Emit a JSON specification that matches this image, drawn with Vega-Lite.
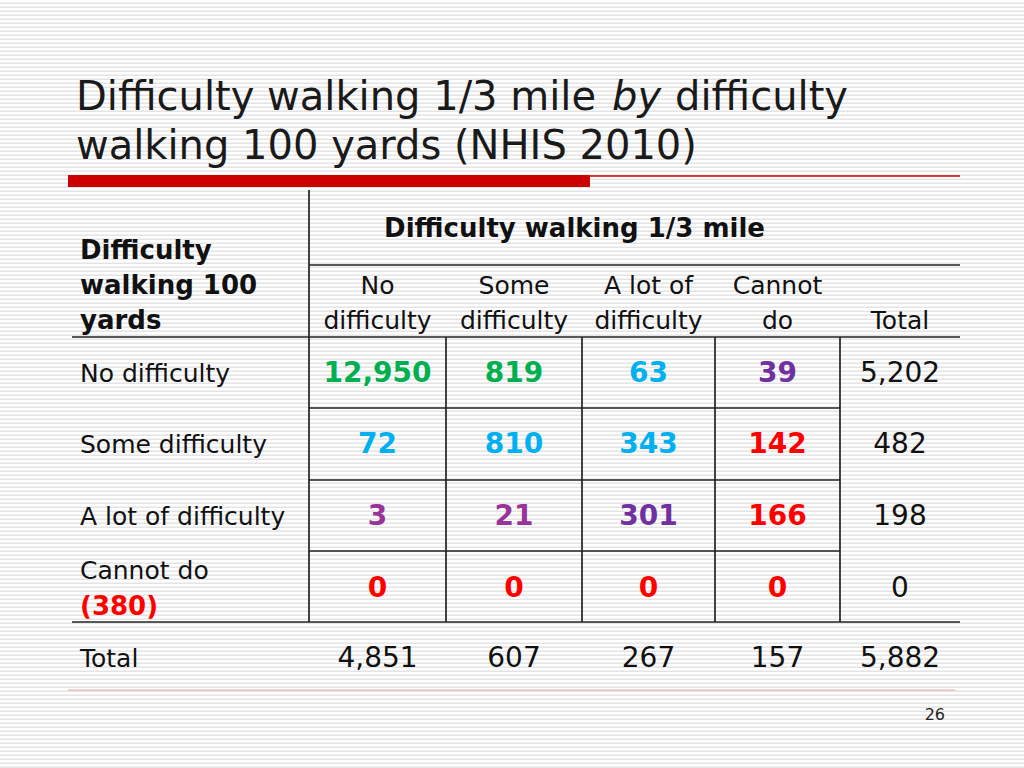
{
  "$schema": "https://vega.github.io/schema/vega-lite/v6.json",
  "width": 1024,
  "height": 768,
  "autosize": {"type": "none"},
  "padding": 0,
  "background": "#ffffff",
  "config": {"view": {"stroke": null}, "text": {"font": "DejaVu Sans"}},
  "datasets": {
    "lines": [
      {"c1": 0, "c2": 0, "r1": 0, "r2": 6},
      {"c1": 1, "c2": 1, "r1": 2, "r2": 6},
      {"c1": 2, "c2": 2, "r1": 2, "r2": 6},
      {"c1": 3, "c2": 3, "r1": 2, "r2": 6},
      {"c1": 4, "c2": 4, "r1": 2, "r2": 6},
      {"c1": 0, "c2": 5, "r1": 1, "r2": 1},
      {"c1": -1, "c2": 5, "r1": 2, "r2": 2},
      {"c1": 0, "c2": 4, "r1": 3, "r2": 3},
      {"c1": 0, "c2": 4, "r1": 4, "r2": 4},
      {"c1": 0, "c2": 4, "r1": 5, "r2": 5},
      {"c1": -1, "c2": 5, "r1": 6, "r2": 6}
    ],
    "rowhead": [
      {"line": 0, "t": "Difficulty"},
      {"line": 1, "t": "walking 100"},
      {"line": 2, "t": "yards"}
    ],
    "colhead": [
      {"col": 0, "line": 0, "t": "No"},
      {"col": 0, "line": 1, "t": "difficulty"},
      {"col": 1, "line": 0, "t": "Some"},
      {"col": 1, "line": 1, "t": "difficulty"},
      {"col": 2, "line": 0, "t": "A lot of"},
      {"col": 2, "line": 1, "t": "difficulty"},
      {"col": 3, "line": 0, "t": "Cannot"},
      {"col": 3, "line": 1, "t": "do"},
      {"col": 4, "line": 1, "t": "Total"}
    ],
    "rowlabels": [
      {"row": 0, "t": "No difficulty"},
      {"row": 1, "t": "Some difficulty"},
      {"row": 2, "t": "A lot of difficulty"},
      {"row": 3, "t": "Cannot do"},
      {"row": 4, "t": "Total"}
    ],
    "counts": [
      {"row": 0, "col": 0, "n": 12950, "grp": "A"},
      {"row": 0, "col": 1, "n": 819, "grp": "A"},
      {"row": 0, "col": 2, "n": 63, "grp": "B"},
      {"row": 0, "col": 3, "n": 39, "grp": "C"},
      {"row": 1, "col": 0, "n": 72, "grp": "B"},
      {"row": 1, "col": 1, "n": 810, "grp": "B"},
      {"row": 1, "col": 2, "n": 343, "grp": "B"},
      {"row": 1, "col": 3, "n": 142, "grp": "E"},
      {"row": 2, "col": 0, "n": 3, "grp": "D"},
      {"row": 2, "col": 1, "n": 21, "grp": "D"},
      {"row": 2, "col": 2, "n": 301, "grp": "C"},
      {"row": 2, "col": 3, "n": 166, "grp": "E"},
      {"row": 3, "col": 0, "n": 0, "grp": "E"},
      {"row": 3, "col": 1, "n": 0, "grp": "E"},
      {"row": 3, "col": 2, "n": 0, "grp": "E"},
      {"row": 3, "col": 3, "n": 0, "grp": "E"}
    ],
    "totals": [
      {"row": 0, "col": 4, "n": 5202},
      {"row": 1, "col": 4, "n": 482},
      {"row": 2, "col": 4, "n": 198},
      {"row": 3, "col": 4, "n": 0},
      {"row": 4, "col": 0, "n": 4851},
      {"row": 4, "col": 1, "n": 607},
      {"row": 4, "col": 2, "n": 267},
      {"row": 4, "col": 3, "n": 157},
      {"row": 4, "col": 4, "n": 5882}
    ]
  },
  "resolve": {"scale": {"x": "independent", "y": "independent", "color": "independent"}},
  "layer": [
    {
      "data": {"values": [{}]},
      "mark": {"type": "rule", "stroke": "#e4e4e4", "strokeWidth": 1024, "strokeDash": [1.5, 2.5]},
      "encoding": {
        "x": {"datum": 0.5, "type": "quantitative", "scale": {"domain": [0, 1], "nice": false, "zero": false}, "axis": null},
        "y": {"datum": 0, "type": "quantitative", "scale": {"domain": [0, 1], "nice": false, "zero": false}, "axis": null},
        "y2": {"datum": 1}
      }
    },
    {
      "data": {"values": [{}]},
      "mark": {"type": "rect", "color": "#cc0000"},
      "encoding": {
        "x": {"datum": -1.017, "type": "quantitative", "scale": {"domain": [-1, 0, 1, 2, 3, 4, 5], "range": [72, 309, 446, 582, 715, 840, 960], "nice": false, "zero": false}, "axis": null},
        "x2": {"datum": 2.06},
        "y": {"datum": -1, "type": "quantitative", "scale": {"domain": [-4, -3, -2, -1, 0, 1, 2, 3, 4, 5, 6, 7, 8], "range": [0, 110, 159, 175, 190, 265, 337, 408, 480, 551, 622, 690, 768], "nice": false, "zero": false}, "axis": null},
        "y2": {"datum": -0.2}
      }
    },
    {
      "data": {"values": [{}]},
      "mark": {"type": "rule", "color": "#cc0000", "strokeWidth": 1.5},
      "encoding": {
        "x": {"datum": 2.06, "type": "quantitative", "scale": {"domain": [-1, 0, 1, 2, 3, 4, 5], "range": [72, 309, 446, 582, 715, 840, 960], "nice": false, "zero": false}, "axis": null},
        "x2": {"datum": 5},
        "y": {"datum": -0.93, "type": "quantitative", "scale": {"domain": [-4, -3, -2, -1, 0, 1, 2, 3, 4, 5, 6, 7, 8], "range": [0, 110, 159, 175, 190, 265, 337, 408, 480, 551, 622, 690, 768], "nice": false, "zero": false}, "axis": null}
      }
    },
    {
      "data": {"values": [{}]},
      "mark": {"type": "rule", "color": "#e3a3a3", "strokeWidth": 1.2},
      "encoding": {
        "x": {"datum": -1.017, "type": "quantitative", "scale": {"domain": [-1, 0, 1, 2, 3, 4, 5], "range": [72, 309, 446, 582, 715, 840, 960], "nice": false, "zero": false}, "axis": null},
        "x2": {"datum": 4.96},
        "y": {"datum": 7, "type": "quantitative", "scale": {"domain": [-4, -3, -2, -1, 0, 1, 2, 3, 4, 5, 6, 7, 8], "range": [0, 110, 159, 175, 190, 265, 337, 408, 480, 551, 622, 690, 768], "nice": false, "zero": false}, "axis": null}
      }
    },
    {
      "data": {"name": "lines"},
      "mark": {"type": "rule", "color": "#222222", "strokeWidth": 1.7},
      "encoding": {
        "x": {"field": "c1", "type": "quantitative", "scale": {"domain": [-1, 0, 1, 2, 3, 4, 5], "range": [72, 309, 446, 582, 715, 840, 960], "nice": false, "zero": false}, "axis": null},
        "x2": {"field": "c2"},
        "y": {"field": "r1", "type": "quantitative", "scale": {"domain": [-4, -3, -2, -1, 0, 1, 2, 3, 4, 5, 6, 7, 8], "range": [0, 110, 159, 175, 190, 265, 337, 408, 480, 551, 622, 690, 768], "nice": false, "zero": false}, "axis": null},
        "y2": {"field": "r2"}
      }
    },
    {
      "data": {"values": [{}]},
      "mark": {"type": "text", "align": "left", "baseline": "alphabetic", "fontSize": 40, "color": "#1a1a1a", "dx": 4},
      "encoding": {
        "x": {"datum": -1, "type": "quantitative", "scale": {"domain": [-1, 0, 1, 2, 3, 4, 5], "range": [72, 309, 446, 582, 715, 840, 960], "nice": false, "zero": false}, "axis": null},
        "y": {"datum": -3, "type": "quantitative", "scale": {"domain": [-4, -3, -2, -1, 0, 1, 2, 3, 4, 5, 6, 7, 8], "range": [0, 110, 159, 175, 190, 265, 337, 408, 480, 551, 622, 690, 768], "nice": false, "zero": false}, "axis": null},
        "text": {"value": "Difficulty walking 1/3 mile"}
      }
    },
    {
      "data": {"values": [{}]},
      "mark": {"type": "text", "align": "left", "baseline": "alphabetic", "fontSize": 40, "fontStyle": "italic", "color": "#1a1a1a", "dx": 30},
      "encoding": {
        "x": {"datum": 2, "type": "quantitative", "scale": {"domain": [-1, 0, 1, 2, 3, 4, 5], "range": [72, 309, 446, 582, 715, 840, 960], "nice": false, "zero": false}, "axis": null},
        "y": {"datum": -3, "type": "quantitative", "scale": {"domain": [-4, -3, -2, -1, 0, 1, 2, 3, 4, 5, 6, 7, 8], "range": [0, 110, 159, 175, 190, 265, 337, 408, 480, 551, 622, 690, 768], "nice": false, "zero": false}, "axis": null},
        "text": {"value": "by"}
      }
    },
    {
      "data": {"values": [{}]},
      "mark": {"type": "text", "align": "left", "baseline": "alphabetic", "fontSize": 40, "color": "#1a1a1a", "dx": 93},
      "encoding": {
        "x": {"datum": 2, "type": "quantitative", "scale": {"domain": [-1, 0, 1, 2, 3, 4, 5], "range": [72, 309, 446, 582, 715, 840, 960], "nice": false, "zero": false}, "axis": null},
        "y": {"datum": -3, "type": "quantitative", "scale": {"domain": [-4, -3, -2, -1, 0, 1, 2, 3, 4, 5, 6, 7, 8], "range": [0, 110, 159, 175, 190, 265, 337, 408, 480, 551, 622, 690, 768], "nice": false, "zero": false}, "axis": null},
        "text": {"value": "difficulty"}
      }
    },
    {
      "data": {"values": [{}]},
      "mark": {"type": "text", "align": "left", "baseline": "alphabetic", "fontSize": 40, "color": "#1a1a1a", "dx": 4},
      "encoding": {
        "x": {"datum": -1, "type": "quantitative", "scale": {"domain": [-1, 0, 1, 2, 3, 4, 5], "range": [72, 309, 446, 582, 715, 840, 960], "nice": false, "zero": false}, "axis": null},
        "y": {"datum": -2, "type": "quantitative", "scale": {"domain": [-4, -3, -2, -1, 0, 1, 2, 3, 4, 5, 6, 7, 8], "range": [0, 110, 159, 175, 190, 265, 337, 408, 480, 551, 622, 690, 768], "nice": false, "zero": false}, "axis": null},
        "text": {"value": "walking 100 yards (NHIS 2010)"}
      }
    },
    {
      "data": {"values": [{}]},
      "mark": {"type": "text", "align": "center", "baseline": "middle", "fontSize": 26, "fontWeight": "bold", "color": "#111111"},
      "encoding": {
        "x": {"datum": 1.945, "type": "quantitative", "scale": {"domain": [-1, 0, 1, 2, 3, 4, 5], "range": [72, 309, 446, 582, 715, 840, 960], "nice": false, "zero": false}, "axis": null},
        "y": {"datum": 0.52, "type": "quantitative", "scale": {"domain": [-4, -3, -2, -1, 0, 1, 2, 3, 4, 5, 6, 7, 8], "range": [0, 110, 159, 175, 190, 265, 337, 408, 480, 551, 622, 690, 768], "nice": false, "zero": false}, "axis": null},
        "text": {"value": "Difficulty walking 1/3 mile"}
      }
    },
    {
      "data": {"name": "rowhead"},
      "mark": {"type": "text", "align": "left", "baseline": "middle", "fontSize": 26, "fontWeight": "bold", "color": "#111111", "dx": 8},
      "encoding": {
        "x": {"datum": -1, "type": "quantitative", "scale": {"domain": [-1, 0, 1, 2, 3, 4, 5], "range": [72, 309, 446, 582, 715, 840, 960], "nice": false, "zero": false}, "axis": null},
        "y": {"field": "line", "type": "quantitative", "scale": {"domain": [0, 1, 2], "range": [251, 286, 321], "nice": false, "zero": false}, "axis": null},
        "text": {"field": "t", "type": "nominal"}
      }
    },
    {
      "data": {"name": "colhead"},
      "mark": {"type": "text", "align": "center", "baseline": "middle", "fontSize": 25, "color": "#111111"},
      "encoding": {
        "x": {"field": "col", "type": "quantitative", "scale": {"domain": [0, 1, 2, 3, 4], "range": [377.5, 514, 648.5, 777.5, 900], "nice": false, "zero": false}, "axis": null},
        "y": {"field": "line", "type": "quantitative", "scale": {"domain": [0, 1], "range": [286, 321], "nice": false, "zero": false}, "axis": null},
        "text": {"field": "t", "type": "nominal"}
      }
    },
    {
      "data": {"name": "rowlabels"},
      "mark": {"type": "text", "align": "left", "baseline": "middle", "fontSize": 25, "color": "#111111", "dx": 8},
      "encoding": {
        "x": {"datum": -1, "type": "quantitative", "scale": {"domain": [-1, 0, 1, 2, 3, 4, 5], "range": [72, 309, 446, 582, 715, 840, 960], "nice": false, "zero": false}, "axis": null},
        "y": {"field": "row", "type": "quantitative", "scale": {"domain": [0, 1, 2, 3, 4], "range": [374, 445, 517, 571, 659], "nice": false, "zero": false}, "axis": null},
        "text": {"field": "t", "type": "nominal"}
      }
    },
    {
      "data": {"values": [{}]},
      "mark": {"type": "text", "align": "left", "baseline": "middle", "fontSize": 26, "fontWeight": "bold", "color": "#ff0000", "dx": 8},
      "encoding": {
        "x": {"datum": -1, "type": "quantitative", "scale": {"domain": [-1, 0, 1, 2, 3, 4, 5], "range": [72, 309, 446, 582, 715, 840, 960], "nice": false, "zero": false}, "axis": null},
        "y": {"datum": 5.79, "type": "quantitative", "scale": {"domain": [-4, -3, -2, -1, 0, 1, 2, 3, 4, 5, 6, 7, 8], "range": [0, 110, 159, 175, 190, 265, 337, 408, 480, 551, 622, 690, 768], "nice": false, "zero": false}, "axis": null},
        "text": {"value": "(380)"}
      }
    },
    {
      "data": {"name": "counts"},
      "mark": {"type": "text", "align": "center", "baseline": "middle", "fontSize": 28, "fontWeight": "bold"},
      "encoding": {
        "x": {"field": "col", "type": "quantitative", "scale": {"domain": [0, 1, 2, 3, 4], "range": [377.5, 514, 648.5, 777.5, 900], "nice": false, "zero": false}, "axis": null},
        "y": {"field": "row", "type": "quantitative", "scale": {"domain": [0, 1, 2, 3, 4], "range": [374, 445, 517, 589, 659], "nice": false, "zero": false}, "axis": null},
        "color": {"field": "grp", "type": "nominal", "scale": {"domain": ["A", "B", "C", "D", "E"], "range": ["#00b050", "#00b0f0", "#7030a0", "#993399", "#ff0000"]}, "legend": null},
        "text": {"field": "n", "type": "quantitative", "format": ",d"}
      }
    },
    {
      "data": {"name": "totals"},
      "mark": {"type": "text", "align": "center", "baseline": "middle", "fontSize": 28, "color": "#111111"},
      "encoding": {
        "x": {"field": "col", "type": "quantitative", "scale": {"domain": [0, 1, 2, 3, 4], "range": [377.5, 514, 648.5, 777.5, 900], "nice": false, "zero": false}, "axis": null},
        "y": {"field": "row", "type": "quantitative", "scale": {"domain": [0, 1, 2, 3, 4], "range": [374, 445, 517, 589, 659], "nice": false, "zero": false}, "axis": null},
        "text": {"field": "n", "type": "quantitative", "format": ",d"}
      }
    },
    {
      "data": {"values": [{}]},
      "mark": {"type": "text", "align": "right", "baseline": "middle", "fontSize": 16, "color": "#222222"},
      "encoding": {
        "x": {"datum": 4.875, "type": "quantitative", "scale": {"domain": [-1, 0, 1, 2, 3, 4, 5], "range": [72, 309, 446, 582, 715, 840, 960], "nice": false, "zero": false}, "axis": null},
        "y": {"datum": 7.32, "type": "quantitative", "scale": {"domain": [-4, -3, -2, -1, 0, 1, 2, 3, 4, 5, 6, 7, 8], "range": [0, 110, 159, 175, 190, 265, 337, 408, 480, 551, 622, 690, 768], "nice": false, "zero": false}, "axis": null},
        "text": {"value": "26"}
      }
    }
  ]
}
